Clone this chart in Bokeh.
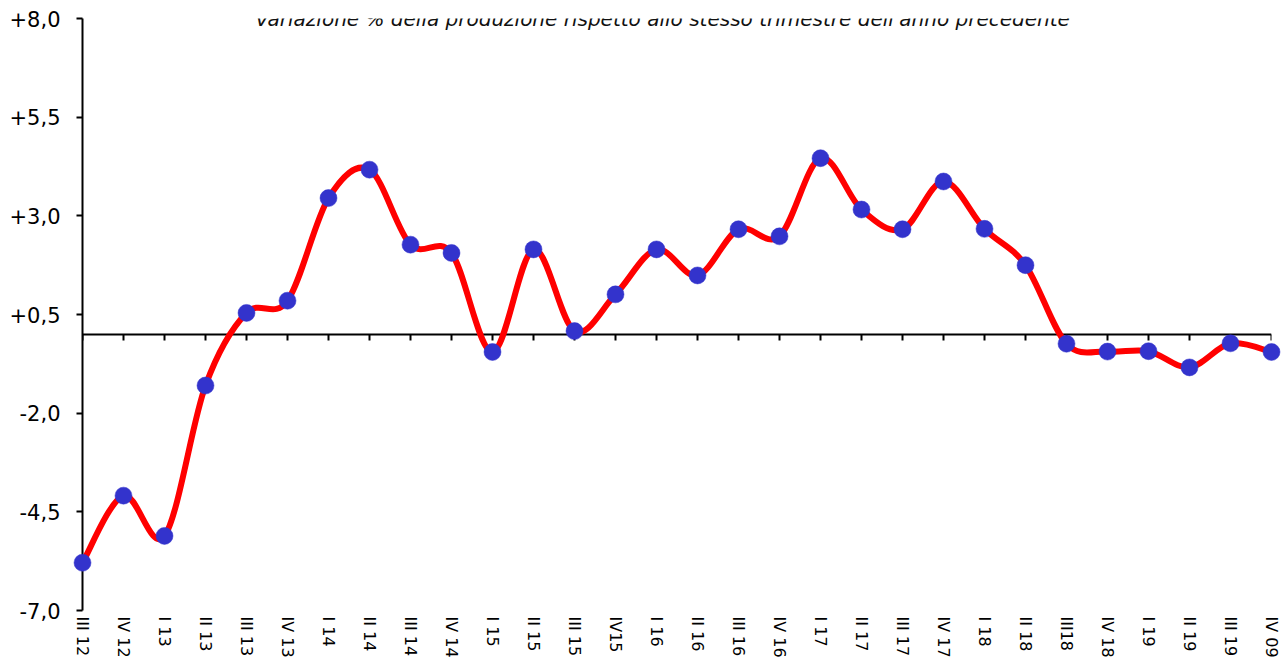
from bokeh.plotting import figure
from bokeh.models import LinearAxis, FixedTicker, Label
from bokeh.embed import file_html
from bokeh.resources import INLINE

# ---- data ----
quarters = ["III 12", "IV 12", "I 13", "II 13", "III 13", "IV 13", "I 14", "II 14",
            "III 14", "IV 14", "I 15", "II 15", "III 15", "IV15", "I 16", "II 16",
            "III 16", "IV 16", "I 17", "II 17", "III 17", "IV 17", "I 18", "II 18",
            "III18", "IV 18", "I 19", "II 19", "III 19", "IV 09"]
values = [-5.79, -4.09, -5.11, -1.30, 0.54, 0.85, 3.45, 4.17, 2.27, 2.06,
          -0.45, 2.15, 0.08, 1.01, 2.15, 1.49, 2.66, 2.48, 4.46, 3.16,
          2.66, 3.87, 2.67, 1.75, -0.24, -0.44, -0.43, -0.84, -0.23, -0.45]
y_ticks = [-7.0, -4.5, -2.0, 0.5, 3.0, 5.5, 8.0]
y_tick_labels = ["-7,0", "-4,5", "-2,0", "+0,5", "+3,0", "+5,5", "+8,0"]
title_text = "Variazione % della produzione rispetto allo stesso trimestre dell'anno precedente"

n = len(values)
xs = list(range(n))

FONT = "DejaVu Sans"

p = figure(frame_width=1189, frame_height=592,
           x_range=(0, n - 1), y_range=(y_ticks[0], y_ticks[-1]),
           x_axis_location=None, y_axis_location="left",
           output_backend="svg", toolbar_location=None,
           min_border_left=82, min_border_right=14, min_border_top=18, min_border_bottom=0)
p.outline_line_color = None
p.background_fill_color = "white"
p.border_fill_color = "white"
p.xgrid.visible = False
p.ygrid.visible = False

# y axis
ya = p.yaxis[0]
ya.ticker = FixedTicker(ticks=y_ticks)
ya.major_label_overrides = {t: s for t, s in zip(y_ticks, y_tick_labels)}
ya.axis_line_color = "black"
ya.axis_line_width = 2
ya.major_tick_line_color = "black"
ya.major_tick_line_width = 2
ya.major_tick_out = 6
ya.major_tick_in = 0
ya.minor_tick_line_color = None
ya.major_label_standoff = 16
ya.major_label_text_font = FONT
ya.major_label_text_font_size = "21px"
ya.major_label_text_color = "black"

# horizontal axis line at zero with tick marks
zero_axis = LinearAxis(fixed_location=0, bounds=(0, n - 1), ticker=FixedTicker(ticks=xs))
zero_axis.axis_line_color = "black"
zero_axis.axis_line_width = 2
zero_axis.major_tick_line_color = "black"
zero_axis.major_tick_line_width = 2
zero_axis.major_tick_out = 6
zero_axis.major_tick_in = 0
zero_axis.minor_tick_line_color = None
zero_axis.major_label_text_alpha = 0
zero_axis.major_label_text_font_size = "1px"
zero_axis.major_label_standoff = 0
p.add_layout(zero_axis, "below")

# category labels at bottom
lab_axis = LinearAxis(ticker=FixedTicker(ticks=xs))
lab_axis.major_label_overrides = {i: q for i, q in zip(xs, quarters)}
lab_axis.axis_line_color = None
lab_axis.major_tick_line_color = None
lab_axis.minor_tick_line_color = None
lab_axis.major_tick_out = 0
lab_axis.major_tick_in = 0
lab_axis.major_label_orientation = "vertical"
lab_axis.major_label_standoff = 6
lab_axis.major_label_text_font = FONT
lab_axis.major_label_text_font_size = "16px"
lab_axis.major_label_text_color = "black"
p.add_layout(lab_axis, "below")

# smoothed line (Bezier segments through the data points)
bx0, by0, bx1, by1, cx0, cy0, cx1, cy1 = [], [], [], [], [], [], [], []
for i in range(n - 1):
    ip = max(i - 1, 0)
    i2 = min(i + 2, n - 1)
    bx0.append(xs[i]); by0.append(values[i])
    bx1.append(xs[i + 1]); by1.append(values[i + 1])
    cx0.append(xs[i] + (xs[i + 1] - xs[ip]) / 6.0)
    cy0.append(values[i] + (values[i + 1] - values[ip]) / 6.0)
    cx1.append(xs[i + 1] - (xs[i2] - xs[i]) / 6.0)
    cy1.append(values[i + 1] - (values[i2] - values[i]) / 6.0)

p.bezier(x0=bx0, y0=by0, x1=bx1, y1=by1, cx0=cx0, cy0=cy0, cx1=cx1, cy1=cy1,
         line_color="#FF0000", line_width=6, line_cap="round", level="overlay")
p.scatter(xs, values, size=17, fill_color="#3333CC", line_color="#3333CC",
          line_width=0.5, level="overlay")

# title near the very top
title = Label(x=580, y=592, x_units="screen", y_units="screen", text=title_text,
              text_align="center", text_baseline="alphabetic", text_font=FONT,
              text_font_style="italic", text_font_size="20px", text_color="#111111")
p.add_layout(title)

open("out.html", "w").write(file_html(p, INLINE))
